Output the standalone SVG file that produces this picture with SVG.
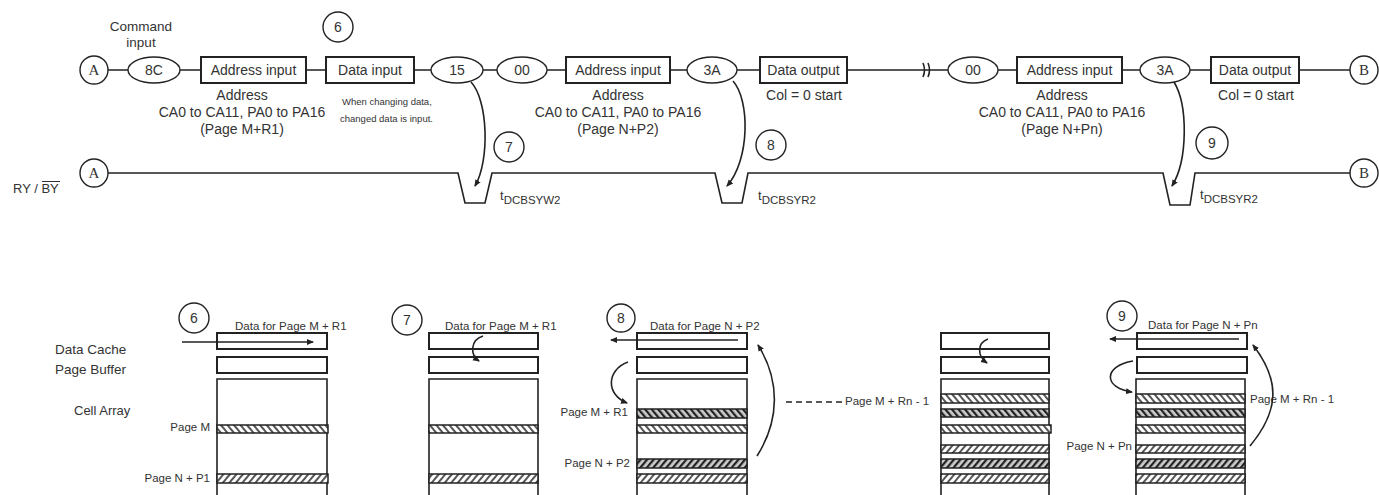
<svg xmlns="http://www.w3.org/2000/svg" width="1379" height="495" viewBox="0 0 1379 495">
<style>
.ln{fill:none;stroke:#222;stroke-width:1.6}
.box{fill:#fff;stroke:#222;stroke-width:2}
.el{fill:#fff;stroke:#222;stroke-width:1.4}
.t{font-family:"Liberation Sans",Arial,sans-serif;fill:#333}
.s{font-family:"Liberation Serif","Times New Roman",serif;fill:#333;font-size:15px}
.bt{font-family:"Liberation Sans",Arial,sans-serif;fill:#333;font-size:14px;text-anchor:middle}
.st{stroke:#222;stroke-width:1.5}
</style>
<defs>
<marker id="ar" markerWidth="8" markerHeight="8" refX="6" refY="4" orient="auto" markerUnits="userSpaceOnUse">
<path d="M0,1 L7,4 L0,7 Z" fill="#222"/>
</marker>
<pattern id="hbl" width="5" height="5" patternUnits="userSpaceOnUse" patternTransform="rotate(-40)">
<rect width="5" height="5" fill="#fff"/><line x1="1" y1="0" x2="1" y2="5" stroke="#555" stroke-width="2"/>
</pattern>
<pattern id="hbd" width="5" height="5" patternUnits="userSpaceOnUse" patternTransform="rotate(-40)">
<rect width="5" height="5" fill="#ccc"/><line x1="1" y1="0" x2="1" y2="5" stroke="#222" stroke-width="2.5"/>
</pattern>
<pattern id="hsl" width="5" height="5" patternUnits="userSpaceOnUse" patternTransform="rotate(40)">
<rect width="5" height="5" fill="#fff"/><line x1="1" y1="0" x2="1" y2="5" stroke="#555" stroke-width="2"/>
</pattern>
<pattern id="hsd" width="5" height="5" patternUnits="userSpaceOnUse" patternTransform="rotate(40)">
<rect width="5" height="5" fill="#ccc"/><line x1="1" y1="0" x2="1" y2="5" stroke="#222" stroke-width="2.5"/>
</pattern>
</defs>
<rect width="1379" height="495" fill="#fff"/>

<g id="cmd-label"><text class="t" font-size="13.5" x="141" y="31" text-anchor="middle">Command</text><text class="t" font-size="13.5" x="141" y="47" text-anchor="middle">input</text></g>
<g id="nodeA1"><circle class="el" cx="94" cy="70" r="14"/><text class="s" x="94" y="75" text-anchor="middle">A</text></g>
<g id="n8C"><ellipse class="el" cx="154" cy="70" rx="26" ry="13"/><text class="bt" x="154" y="75">8C</text></g>
<g id="addr1"><rect class="box" x="201" y="57" width="105" height="26"/><text class="bt" x="253.5" y="75">Address input</text>
<text class="bt" x="242" y="100">Address</text><text class="bt" x="242" y="117">CA0 to CA11, PA0 to PA16</text><text class="bt" x="242" y="134">(Page M+R1)</text></g>
<g id="datain"><rect class="box" x="326" y="57" width="88" height="26"/><text class="bt" x="370" y="75">Data input</text>
<text class="t" font-size="9.5" x="342" y="105">When changing data,</text><text class="t" font-size="9.5" x="340" y="122">changed data is input.</text></g>
<g id="step6top"><circle class="el" cx="338" cy="27" r="15"/><text class="bt" x="338" y="32">6</text></g>
<g id="n15"><ellipse class="el" cx="457" cy="70" rx="26" ry="13"/><text class="bt" x="457" y="75">15</text></g>
<g id="n00a"><ellipse class="el" cx="522" cy="70" rx="25" ry="13"/><text class="bt" x="522" y="75">00</text></g>
<g id="addr2"><rect class="box" x="566" y="57" width="104" height="26"/><text class="bt" x="618" y="75">Address input</text>
<text class="bt" x="618" y="100">Address</text><text class="bt" x="618" y="117">CA0 to CA11, PA0 to PA16</text><text class="bt" x="618" y="134">(Page N+P2)</text></g>
<g id="n3Aa"><ellipse class="el" cx="712" cy="70" rx="25" ry="13"/><text class="bt" x="712" y="75">3A</text></g>
<g id="dout1"><rect class="box" x="760" y="57" width="87" height="26"/><text class="bt" x="803.5" y="75">Data output</text><text class="bt" x="804" y="100">Col = 0 start</text></g>
<g id="n00b"><ellipse class="el" cx="973" cy="70" rx="25" ry="13"/><text class="bt" x="973" y="75">00</text></g>
<g id="addr3"><rect class="box" x="1017" y="57" width="105" height="26"/><text class="bt" x="1069.5" y="75">Address input</text>
<text class="bt" x="1062" y="100">Address</text><text class="bt" x="1062" y="117">CA0 to CA11, PA0 to PA16</text><text class="bt" x="1062" y="134">(Page N+Pn)</text></g>
<g id="n3Ab"><ellipse class="el" cx="1165" cy="70" rx="25" ry="13"/><text class="bt" x="1165" y="75">3A</text></g>
<g id="dout2"><rect class="box" x="1211" y="57" width="88" height="26"/><text class="bt" x="1255" y="75">Data output</text><text class="bt" x="1256" y="100">Col = 0 start</text></g>
<g id="nodeB1"><circle class="el" cx="1364" cy="70" r="14"/><text class="s" x="1364" y="75" text-anchor="middle">B</text></g>

<g id="rybylabel"><text class="t" font-size="13" x="13" y="193">RY / BY</text><line x1="42" y1="181.5" x2="60" y2="181.5" stroke="#333" stroke-width="1"/></g>
<g id="nodeA2"><circle class="el" cx="94" cy="173" r="14"/><text class="s" x="94" y="178" text-anchor="middle">A</text></g>
<g id="nodeB2"><circle class="el" cx="1364" cy="173" r="14"/><text class="s" x="1364" y="178" text-anchor="middle">B</text></g>
<g id="step7top"><circle class="el" cx="509" cy="147" r="15"/><text class="bt" x="509" y="152">7</text></g>
<g id="step8top"><circle class="el" cx="771" cy="145" r="15"/><text class="bt" x="771" y="150">8</text></g>
<g id="step9top"><circle class="el" cx="1212" cy="143" r="16"/><text class="bt" x="1212" y="148">9</text></g>
<g id="tw2"><text class="t" x="500" y="200" font-size="13">t<tspan dy="4" font-size="11.5">DCBSYW2</tspan></text></g>
<g id="tr2a"><text class="t" x="758" y="200" font-size="13">t<tspan dy="4" font-size="11.5">DCBSYR2</tspan></text></g>
<g id="tr2b"><text class="t" x="1200" y="199" font-size="13">t<tspan dy="4" font-size="11.5">DCBSYR2</tspan></text></g>

<g id="labels-left">
<text class="t" font-size="13.5" x="55" y="354">Data Cache</text>
<text class="t" font-size="13.5" x="55" y="374">Page Buffer</text>
<text class="t" font-size="13" x="74" y="415">Cell Array</text>
</g>

<g id="col1">
<rect class="box" x="217" y="333" width="110" height="16"/>
<rect class="box" x="217" y="357" width="110" height="16"/>
<path class="ln" stroke-width="2" d="M217,500 V379 H327 V500"/>
<rect class="st" x="217" y="425" width="111" height="8" fill="url(#hbl)"/>
<rect class="st" x="217" y="474" width="111" height="9" fill="url(#hsl)"/>
<circle class="el" cx="194" cy="318" r="15"/><text class="bt" x="194" y="323">6</text>
<text class="t" font-size="11.5" x="235" y="330">Data for Page M + R1</text>
<text class="t" font-size="11.5" x="210" y="431" text-anchor="end">Page M</text>
<text class="t" font-size="11.5" x="210" y="482" text-anchor="end">Page N + P1</text>
</g>

<g id="col2">
<rect class="box" x="429" y="333" width="109" height="16"/>
<rect class="box" x="429" y="357" width="109" height="16"/>
<path class="ln" stroke-width="2" d="M429,500 V379 H538 V500"/>
<rect class="st" x="429" y="425" width="109" height="8" fill="url(#hbl)"/>
<rect class="st" x="429" y="474" width="109" height="9" fill="url(#hsl)"/>
<circle class="el" cx="407" cy="320" r="15"/><text class="bt" x="407" y="325">7</text>
<text class="t" font-size="11.5" x="445" y="330">Data for Page M + R1</text>
</g>

<g id="col3">
<rect class="box" x="637" y="333" width="110" height="16"/>
<rect class="box" x="637" y="357" width="110" height="16"/>
<path class="ln" stroke-width="2" d="M637,500 V379 H747 V500"/>
<rect class="st" x="637" y="409" width="110" height="9" fill="url(#hbd)"/>
<rect class="st" x="637" y="425" width="110" height="8" fill="url(#hbl)"/>
<rect class="st" x="637" y="459" width="110" height="9" fill="url(#hsd)"/>
<rect class="st" x="637" y="474" width="110" height="9" fill="url(#hsl)"/>
<circle class="el" cx="621" cy="318" r="14"/><text class="bt" x="621" y="323">8</text>
<text class="t" font-size="11.5" x="650" y="330">Data for Page N + P2</text>
<text class="t" font-size="11.5" x="628" y="416" text-anchor="end">Page M + R1</text>
<text class="t" font-size="11.5" x="630" y="467" text-anchor="end">Page N + P2</text>
</g>

<g id="dashlabel"><text class="t" font-size="11.5" x="845" y="405">Page M + Rn - 1</text></g>

<g id="col4">
<rect class="box" x="941" y="333" width="108" height="16"/>
<rect class="box" x="941" y="357" width="108" height="16"/>
<path class="ln" stroke-width="2" d="M941,500 V379 H1049 V500"/>
<rect class="st" x="941" y="394" width="108" height="9" fill="url(#hbl)"/>
<rect class="st" x="941" y="409" width="108" height="8" fill="url(#hbd)"/>
<rect class="st" x="941" y="425" width="110" height="8" fill="url(#hbl)"/>
<rect class="st" x="941" y="445" width="108" height="8" fill="url(#hsl)"/>
<rect class="st" x="941" y="459" width="108" height="9" fill="url(#hsd)"/>
<rect class="st" x="941" y="474" width="108" height="9" fill="url(#hsl)"/>
</g>

<g id="col5">
<rect class="box" x="1137" y="333" width="110" height="16"/>
<rect class="box" x="1137" y="357" width="110" height="16"/>
<path class="ln" stroke-width="2" d="M1136,500 V379 H1245 V500"/>
<rect class="st" x="1136" y="394" width="109" height="9" fill="url(#hbl)"/>
<rect class="st" x="1136" y="409" width="109" height="8" fill="url(#hbd)"/>
<rect class="st" x="1136" y="425" width="109" height="8" fill="url(#hbl)"/>
<rect class="st" x="1136" y="445" width="109" height="8" fill="url(#hsl)"/>
<rect class="st" x="1136" y="459" width="109" height="9" fill="url(#hsd)"/>
<rect class="st" x="1136" y="474" width="109" height="9" fill="url(#hsl)"/>
<circle class="el" cx="1122" cy="316" r="15"/><text class="bt" x="1122" y="321">9</text>
<text class="t" font-size="11.5" x="1148" y="329">Data for Page N + Pn</text>
<text class="t" font-size="11.5" x="1132" y="450" text-anchor="end">Page N + Pn</text>
<text class="t" font-size="11.5" x="1250" y="403">Page M + Rn - 1</text>
</g>

<g id="connectors">
<path class="ln" d="M108,70H128M180,70H201M306,70H326M414,70H431M483,70H497M547,70H566M670,70H687M737,70H760M847,70H948M998,70H1017M1122,70H1140M1190,70H1211M1299,70H1350"/>
<path class="ln" d="M923,63 q3,7 0,14 M928,63 q3,7 0,14" stroke-width="1"/>
<path class="ln" d="M108,173 H458 L465,203 H485 L492,173 H715 L722,203 H742 L748,173 H1163 L1170,205 H1190 L1195,173 H1350"/>
<path class="ln" d="M471,82 C488,100 490,160 475,186" stroke-width="1.3" marker-end="url(#ar)"/>
<path class="ln" d="M733,81 C750,100 750,160 727,186" stroke-width="1.3" marker-end="url(#ar)"/>
<path class="ln" d="M1174,82 C1188,105 1188,160 1172,186" stroke-width="1.3" marker-end="url(#ar)"/>
<path class="ln" d="M182,342 H313" stroke-width="1.3" marker-end="url(#ar)"/>
<path class="ln" d="M483,336 C470,340 470,355 479,361" stroke-width="1.3" marker-end="url(#ar)"/>
<path class="ln" d="M738,340 H611" stroke-width="1.3" marker-end="url(#ar)"/>
<path class="ln" d="M628,362 C606,370 606,395 627,403" stroke-width="1.3" marker-end="url(#ar)"/>
<path class="ln" d="M757,456 C780,420 780,380 758,345" stroke-width="1.3" marker-end="url(#ar)"/>
<path class="ln" d="M988,339 C977,343 977,356 987,363" stroke-width="1.3" marker-end="url(#ar)"/>
<path class="ln" d="M1239,339 H1110" stroke-width="1.3" marker-end="url(#ar)"/>
<path class="ln" d="M1133,361 C1103,366 1103,388 1132,392" stroke-width="1.3" marker-end="url(#ar)"/>
<path class="ln" d="M1250,446 C1280,410 1280,380 1253,345" stroke-width="1.3" marker-end="url(#ar)"/>
<path class="ln" d="M786,402 H845" stroke-width="1.3" stroke-dasharray="6,4"/>
</g>
</svg>
